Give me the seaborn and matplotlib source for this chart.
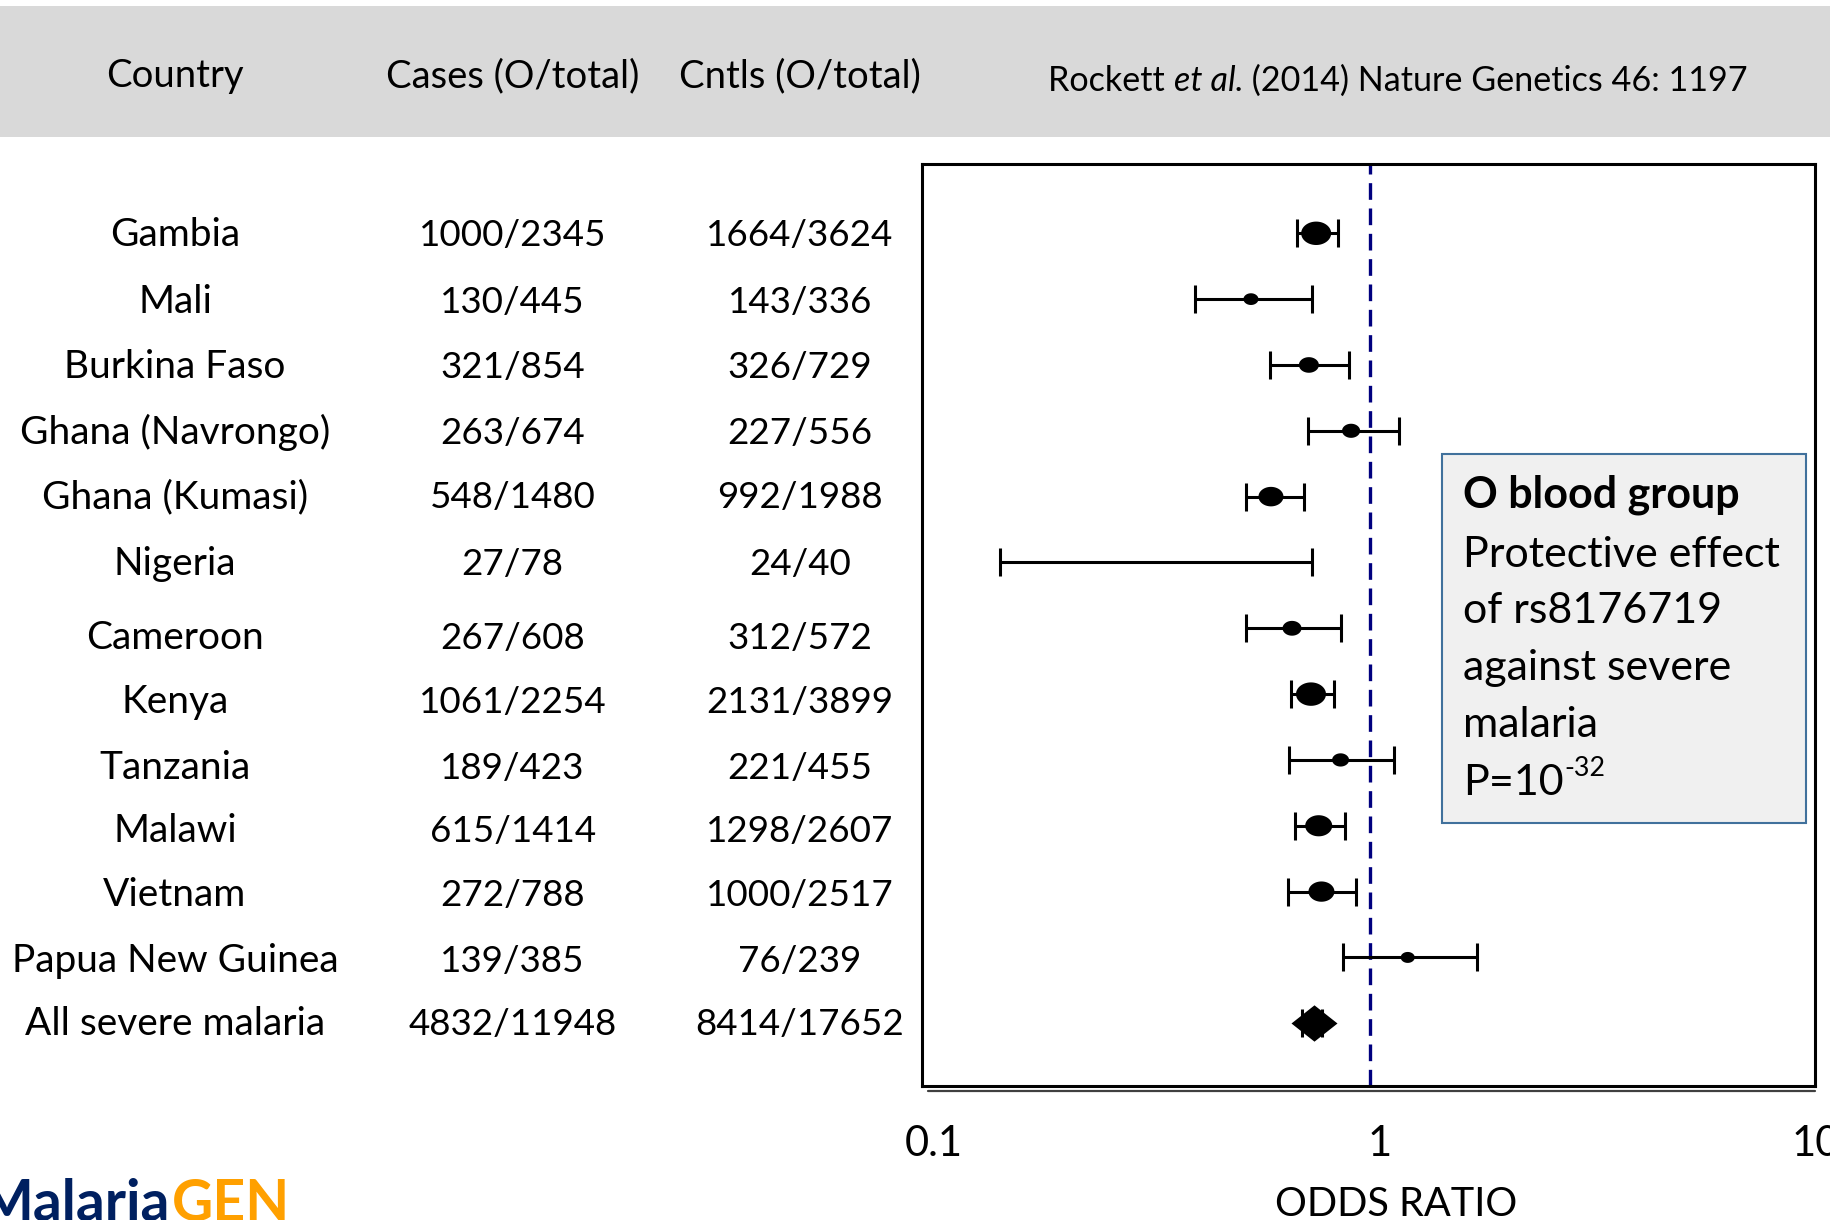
import numpy as np
import pandas as pd
import matplotlib
matplotlib.use("Agg")
import matplotlib.pyplot as plt
import seaborn as sns
from matplotlib.path import Path
from matplotlib.patches import Rectangle
import matplotlib.transforms as mtransforms

# ---------------- data ----------------
countries = ["Gambia", "Mali", "Burkina Faso", "Ghana (Navrongo)", "Ghana (Kumasi)",
             "Nigeria", "Cameroon", "Kenya", "Tanzania", "Malawi", "Vietnam",
             "Papua New Guinea", "All severe malaria"]
cases = ["1000/2345", "130/445", "321/854", "263/674", "548/1480", "27/78", "267/608",
         "1061/2254", "189/423", "615/1414", "272/788", "139/385", "4832/11948"]
controls = ["1664/3624", "143/336", "326/729", "227/556", "992/1988", "24/40", "312/572",
            "2131/3899", "221/455", "1298/2607", "1000/2517", "76/239", "8414/17652"]
odds_ratio = [0.758, 0.541, 0.730, 0.908, 0.600, 0.331, 0.669, 0.738, 0.860, 0.768, 0.779, 1.217, 0.749]
ci_low = [0.687, 0.406, 0.597, 0.727, 0.528, 0.148, 0.528, 0.667, 0.658, 0.678, 0.656, 0.870, 0.704]
ci_high = [0.849, 0.740, 0.900, 1.164, 0.711, 0.740, 0.861, 0.830, 1.132, 0.882, 0.929, 1.740, 0.780]
weight = [16.0, 4.0, 7.1, 5.8, 11.1, 0.1, 6.4, 16.0, 5.1, 13.0, 12.0, 3.5, 0.0]  # study weight (%)
headers = ["Country", "Cases (O/total)", "Cntls (O/total)"]
tick_values = [0.1, 1, 10]
tick_labels = ["0.1", "1", "10"]

df = pd.DataFrame({"country": countries, "cases": cases, "controls": controls,
                   "OR": odds_ratio, "lo": ci_low, "hi": ci_high, "weight": weight})
df["row"] = np.arange(len(df))
studies = df.iloc[:-1]
pooled = df.iloc[-1:]

# ---------------- style ----------------
sns.set_theme(style="white")
plt.rcParams["font.family"] = ["Lato", "DejaVu Sans"]

W, H = 1831, 1220
fig = plt.figure(figsize=(W / 100, H / 100), dpi=100)


def fx(px):
    return px / W


def fy(py):
    return 1 - py / H


# header band
fig.add_artist(Rectangle((0, fy(137)), 1, (137 - 6) / H, transform=fig.transFigure,
                         facecolor="#D9D9D9", edgecolor="none", zorder=0))

ax_l, ax_r, ax_t, ax_b = 922, 1815, 164, 1086
ax = fig.add_axes([fx(ax_l), fy(ax_b), (ax_r - ax_l) / W, (ax_b - ax_t) / H])
ax.set_xscale("log")
ppd = (ax_r - ax_l) / 2.0  # px per decade
one_px = 1371
ax.set_xlim(10 ** (-(one_px - ax_l) / ppd), 10 ** ((ax_r - one_px) / ppd))
row0, drow = 233.3, 65.83
ax.set_ylim((ax_b - row0) / drow, (ax_t - row0) / drow)

# error bars
ax.errorbar(df["OR"], df["row"], xerr=[df["OR"] - df["lo"], df["hi"] - df["OR"]],
            fmt="none", ecolor="black", elinewidth=2.2, capsize=10, capthick=2.2, zorder=3)

# study points: ellipse markers, area ~ weight
theta = np.linspace(0, 2 * np.pi, 60)
ellipse = Path(np.column_stack([1.28 * np.cos(theta), np.sin(theta)]), closed=True)
wmax = max(weight)
smax = (30 * 0.72) ** 2
sns.scatterplot(data=studies, x="OR", y="row", size="weight", sizes=(0, smax),
                size_norm=(0, wmax), marker=ellipse, color="black", linewidth=0,
                legend=False, ax=ax, zorder=4)

# pooled diamond
diamond = Path([(-1, 0), (0, 0.79), (1, 0), (0, -0.79), (-1, 0)], closed=True)
sns.scatterplot(data=pooled, x="OR", y="row", marker=diamond, s=(46 * 0.72) ** 2,
                color="black", linewidth=0, legend=False, ax=ax, zorder=4)

# reference line
ax.axvline(1, color="#00007F", lw=2.4, ls=(0, (5, 2.6)), zorder=2)

for s in ax.spines.values():
    s.set_color("black")
    s.set_linewidth(2.2)
ax.set_yticks([])
ax.set_xticks(tick_values)
ax.set_xticklabels(tick_labels)
ax.xaxis.set_minor_locator(matplotlib.ticker.NullLocator())
ax.tick_params(axis="x", length=0, pad=28, labelsize=30, labelcolor="black")
for lab, off in zip(ax.get_xticklabels(), [9, 10, 1]):
    lab.set_transform(lab.get_transform() + mtransforms.ScaledTranslation(off / 100, 0, fig.dpi_scale_trans))
ax.set_xlabel("")
ax.set_ylabel("")

# gray underline below the box
ax.plot([(928 - ax_l) / (ax_r - ax_l), 1], [-(1090.5 - ax_b) / (ax_b - ax_t)] * 2,
        transform=ax.transAxes, color="#404040", lw=1.6, clip_on=False, zorder=1)

fig.text(fx(1396), fy(1216), "ODDS RATIO", ha="center", va="baseline", fontsize=28.6, color="black")

# header texts
fs_head = 27.5
for txt, cx in zip(headers, [175, 512.6, 800]):
    fig.text(fx(cx), fy(87), txt, ha="center", va="baseline", fontsize=fs_head, color="black")

# citation with italic part
renderer = fig.canvas.get_renderer()
parts = [("Rockett ", "normal"), ("et al.", "italic"), (" (2014) Nature Genetics 46: 1197", "normal")]
fs_cit = 24.6
tobjs = []
for t, st in parts:
    tobjs.append(fig.text(0, fy(90.7), t, ha="left", va="baseline", fontsize=fs_cit, style=st, color="black"))
widths = [to.get_window_extent(renderer).width for to in tobjs]
x0 = 1398 - sum(widths) / 2
for to, w in zip(tobjs, widths):
    to.set_x(fx(x0))
    x0 += w

# row texts
fs_name = 28
fs_num = 26.5
label_row_px = [233.5, 300, 365.5, 431, 495, 561.7, 635.8, 700, 766, 829, 893, 958.7, 1022]
cap = 26
for i in range(len(df)):
    yb = fy(label_row_px[i] + cap / 2)
    fig.text(fx(175), yb, df["country"][i], ha="center", va="baseline", fontsize=fs_name, color="black")
    fig.text(fx(512.6), yb, df["cases"][i], ha="center", va="baseline", fontsize=fs_num, color="black")
    fig.text(fx(800), yb, df["controls"][i], ha="center", va="baseline", fontsize=fs_num, color="black")

# annotation box
bx0, by0, bx1, by1 = 1442, 454, 1805.7, 822.7
fig.add_artist(Rectangle((fx(bx0), fy(by1)), (bx1 - bx0) / W, (by1 - by0) / H,
                         transform=fig.transFigure, facecolor="#F0F0F0",
                         edgecolor="#41719C", lw=1.5, zorder=5))
fs_box = 31
box_lines = ["O blood group", "Protective effect", "of rs8176719", "against severe", "malaria"]
box_base = [508, 566.7, 623, 680, 736.7]
for j, (t, b) in enumerate(zip(box_lines, box_base)):
    fig.text(fx(1463), fy(b), t, ha="left", va="baseline", fontsize=fs_box,
             fontweight="bold" if j == 0 else "normal", color="black", zorder=6)
tp = fig.text(fx(1463), fy(795), "P=10", ha="left", va="baseline", fontsize=fs_box, color="black", zorder=6)
wp = tp.get_window_extent(renderer).width
fig.text(fx(1463 + wp + 1), fy(776), "-32", ha="left", va="baseline", fontsize=fs_box * 0.62,
         color="black", zorder=6)

# logo
fig.text(fx(170), fy(1221), "Malaria", ha="right", va="baseline", fontsize=41,
         fontweight="bold", color="#002060")
fig.text(fx(172), fy(1221), "GEN", ha="left", va="baseline", fontsize=41,
         fontweight="bold", color="#FFA000")

fig.savefig("out.png", dpi=100)
